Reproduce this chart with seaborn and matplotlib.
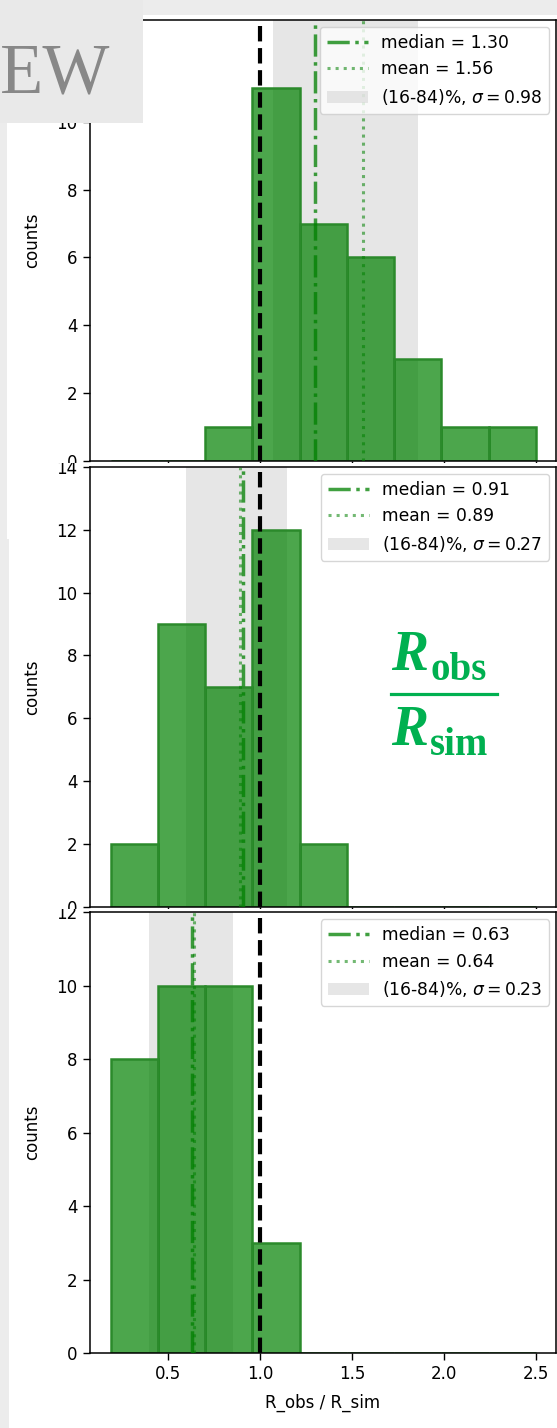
import matplotlib
matplotlib.use("Agg")
import matplotlib.pyplot as plt
import numpy as np
import pandas as pd
import seaborn as sns
from matplotlib.lines import Line2D
from matplotlib.patches import Patch, Rectangle
from matplotlib.transforms import Bbox, TransformedBbox

# histogram data (9 equal bins from 0.19 to 2.5)
bin_edges = [0.19, 0.4467, 0.7033, 0.96, 1.2167, 1.4733, 1.73, 1.9867, 2.2433, 2.5]
counts_top = [0, 0, 1, 11, 7, 6, 3, 1, 1]
counts_mid = [2, 9, 7, 12, 2, 0, 0, 0, 0]
counts_bot = [8, 10, 10, 3, 0, 0, 0, 0, 0]

medians = [1.30, 0.91, 0.63]
means = [1.56, 0.89, 0.64]
band_lo = [1.07, 0.60, 0.40]
band_hi = [1.86, 1.15, 0.855]
sigmas = [0.98, 0.27, 0.23]

W, H = 557, 1428
GREEN = "green"
EDGE = "#2b8a2b"


def fx(x):
    return x / W


def fy(y):
    return 1 - y / H


fig = plt.figure(figsize=(W / 100, H / 100), dpi=100, facecolor="#ececec")

# white backgrounds of the three pasted panels: (left, top, bottom) in px
panels = [(7, 15, 539), (9, 463.5, 1428), (9, 909, 1428)]
# axes boxes: (top, bottom) in px
axes_px = [(20, 461), (467, 906.7), (912.3, 1353)]

all_counts = [counts_top, counts_mid, counts_bot]
centers = [(a + b) / 2 for a, b in zip(bin_edges[:-1], bin_edges[1:])]

for i, counts in enumerate(all_counts):
    left, top, bottom = panels[i]
    rect = Rectangle((fx(left), fy(bottom)), fx(W - left), (bottom - top) / H,
                     transform=fig.transFigure, facecolor="white",
                     edgecolor="none", zorder=1 + 2 * i)
    fig.add_artist(rect)

    a_top, a_bot = axes_px[i]
    ax = fig.add_axes([fx(89.5), fy(a_bot), fx(556) - fx(89.5), (a_bot - a_top) / H])
    ax.set_zorder(2 + 2 * i)
    ax.set_facecolor("white")

    df = pd.DataFrame({"ratio": centers, "n": counts})
    ax.axvspan(band_lo[i], band_hi[i], color="lightgray", alpha=0.55, lw=0, zorder=0)
    sns.histplot(data=df, x="ratio", weights="n", bins=bin_edges, color=GREEN, alpha=0.7,
                 edgecolor=EDGE, linewidth=1.8, ax=ax, zorder=1)
    ax.axvline(medians[i], color=GREEN, alpha=0.75, ls="-.", lw=2.5, zorder=3)
    ax.axvline(means[i], color=GREEN, alpha=0.55, ls=":", lw=2.2, zorder=3)
    ax.axvline(1.0, color="black", ls="--", lw=3, zorder=4)

    handles = [
        Line2D([], [], color=GREEN, alpha=0.75, ls="-.", lw=2.5),
        Line2D([], [], color=GREEN, alpha=0.55, ls=":", lw=2.2),
        Patch(facecolor="lightgray", alpha=0.55, edgecolor="none"),
    ]
    labels = [f"median = {medians[i]:.2f}", f"mean = {means[i]:.2f}",
              f"(16-84)%, $\\sigma = {sigmas[i]:.2f}$"]
    ax.legend(handles, labels, loc="upper right", fontsize=12.3, borderaxespad=0.4,
              handlelength=2.4)

    ax.set_xlim(0.074, 2.61)
    ax.set_ylim(0, max(counts) + 2)
    ax.set_yticks(np.arange(0, max(counts) + 3, 2))
    ax.set_xticks([0.5, 1.0, 1.5, 2.0, 2.5])
    ax.set_ylabel("counts", fontsize=12, labelpad=11)
    ax.set_xlabel("R_obs / R_sim" if i == 2 else "", fontsize=12, labelpad=8)
    ax.tick_params(labelsize=12, length=5, width=1)
    for sp in ax.spines.values():
        sp.set_linewidth(1.1)

    clip = TransformedBbox(Bbox.from_extents(fx(left), fy(bottom), 1, fy(top)),
                           fig.transFigure)
    for tick in ax.yaxis.get_major_ticks() + ax.xaxis.get_major_ticks():
        tick.label1.set_clip_box(clip)
        tick.label1.set_clip_on(True)

# grey watermark box in the top-left corner
fig.add_artist(Rectangle((0, fy(123)), fx(143), 123 / H, transform=fig.transFigure,
                         facecolor="#e9e9e9", edgecolor="none", zorder=20))
fig.text(fx(110), fy(92), "EW", ha="right", va="baseline", fontsize=51,
         family="Liberation Serif", color="#888888", zorder=21)

# green R_obs / R_sim annotation
FRAC = "#00b050"
fig.text(fx(391), fy(670), "R", fontsize=40, family="Liberation Serif",
         style="italic", weight="bold", color=FRAC, va="baseline", zorder=22)
fig.text(fx(430), fy(680), "obs", fontsize=28, family="Liberation Serif",
         weight="bold", color=FRAC, va="baseline", zorder=22)
fig.add_artist(Line2D([fx(391), fx(497)], [fy(694), fy(694)], color=FRAC, lw=2.3,
                      transform=fig.transFigure, zorder=22))
fig.text(fx(391), fy(745), "R", fontsize=40, family="Liberation Serif",
         style="italic", weight="bold", color=FRAC, va="baseline", zorder=22)
fig.text(fx(430), fy(755), "sim", fontsize=28, family="Liberation Serif",
         weight="bold", color=FRAC, va="baseline", zorder=22)

fig.savefig("out.png", dpi=100, facecolor=fig.get_facecolor())
